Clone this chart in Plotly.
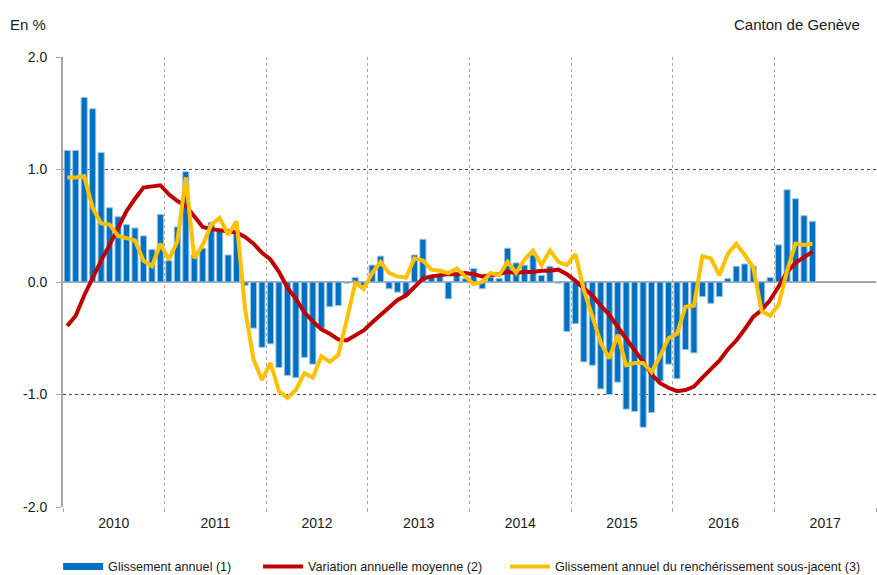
import plotly.graph_objects as go

# ---- data (monthly, Jan 2010 .. May 2017) ----
glissement = [
    1.17, 1.17, 1.64, 1.54, 1.15, 0.66, 0.58, 0.51, 0.48, 0.41, 0.29, 0.60,   # 2010
    0.19, 0.49, 0.98, 0.24, 0.30, 0.53, 0.45, 0.24, 0.46, -0.03, -0.41, -0.58,  # 2011
    -0.55, -0.76, -0.83, -0.85, -0.67, -0.73, -0.41, -0.22, -0.21, -0.01, 0.04, -0.03,  # 2012
    0.15, 0.23, -0.06, -0.09, -0.12, 0.24, 0.38, 0.04, 0.06, -0.15, 0.06, 0.03,  # 2013
    0.12, -0.06, 0.04, 0.03, 0.30, 0.17, 0.15, 0.24, 0.06, 0.14, -0.01, -0.44,  # 2014
    -0.37, -0.71, -0.74, -0.95, -1.00, -0.89, -1.13, -1.15, -1.29, -1.16, -0.88, -0.73,  # 2015
    -0.86, -0.60, -0.63, -0.13, -0.19, -0.13, 0.03, 0.14, 0.16, 0.14, -0.22, 0.04,  # 2016
    0.33, 0.82, 0.74, 0.59, 0.54,  # 2017
]
variation_moyenne = [
    -0.39, -0.30, -0.12, 0.04, 0.19, 0.33, 0.48, 0.63, 0.74, 0.84, 0.85, 0.86,
    0.78, 0.72, 0.68, 0.58, 0.49, 0.47, 0.46, 0.45, 0.44, 0.40, 0.34, 0.26,
    0.20, 0.09, -0.05, -0.15, -0.27, -0.35, -0.42, -0.46, -0.51, -0.52, -0.48, -0.43,
    -0.36, -0.29, -0.22, -0.16, -0.12, -0.04, 0.03, 0.05, 0.06, 0.07, 0.07, 0.08,
    0.07, 0.05, 0.06, 0.07, 0.09, 0.08, 0.09, 0.09, 0.10, 0.10, 0.11, 0.07,
    0.01, -0.06, -0.12, -0.21, -0.29, -0.40, -0.50, -0.60, -0.71, -0.82, -0.90, -0.94,
    -0.97, -0.96, -0.93, -0.85, -0.78, -0.70, -0.60, -0.52, -0.42, -0.31, -0.25, -0.16,
    -0.04, 0.09, 0.17, 0.22, 0.27,
]
sous_jacent = [
    0.93, 0.93, 0.94, 0.66, 0.52, 0.51, 0.41, 0.39, 0.37, 0.19, 0.14, 0.34,
    0.20, 0.36, 0.93, 0.21, 0.33, 0.51, 0.57, 0.42, 0.54, -0.24, -0.69, -0.87,
    -0.72, -0.97, -1.03, -0.96, -0.81, -0.85, -0.66, -0.71, -0.65, -0.34, -0.01, -0.06,
    0.08, 0.18, 0.08, 0.05, 0.04, 0.21, 0.19, 0.11, 0.10, 0.08, 0.12, 0.05,
    -0.02, 0.00, 0.08, 0.06, 0.18, 0.08, 0.20, 0.28, 0.15, 0.28, 0.18, 0.15,
    0.25, -0.07, -0.31, -0.54, -0.68, -0.47, -0.74, -0.72, -0.72, -0.80, -0.66, -0.50,
    -0.46, -0.22, -0.21, 0.23, 0.21, 0.06, 0.25, 0.34, 0.24, 0.13, -0.26, -0.30,
    -0.20, 0.10, 0.34, 0.33, 0.34,
]
years = ["2010", "2011", "2012", "2013", "2014", "2015", "2016", "2017"]
y_ticks = [-2, -1, 0, 1, 2]
y_ticktext = ["-2.0", "-1.0", "0.0", "1.0", "2.0"]
legend_names = ["Glissement annuel (1)", "Variation annuelle moyenne (2)",
                "Glissement annuel du renchérissement sous-jacent (3)"]

months = list(range(len(glissement)))
year_centers = [12 * i + 5.5 for i in range(len(years))]

BLUE = "#0070C0"
RED = "#C00000"
YELLOW = "#FFC000"
FONT = "Liberation Sans, Arial, sans-serif"

fig = go.Figure()
fig.add_trace(go.Bar(x=months, y=glissement, marker=dict(color=BLUE, line=dict(color="#9DC3E6", width=1)),
                     showlegend=False, hoverinfo="y"))
# legend-only entry for the bars (drawn as a thick line like the reference)
fig.add_trace(go.Scatter(x=[None], y=[None], mode="lines", line=dict(color=BLUE, width=7),
                         name=legend_names[0], legend="legend"))
fig.add_trace(go.Scatter(x=months, y=variation_moyenne, mode="lines", line=dict(color=RED, width=4),
                         name=legend_names[1], legend="legend2"))
fig.add_trace(go.Scatter(x=months, y=sous_jacent, mode="lines", line=dict(color=YELLOW, width=4),
                         name=legend_names[2], legend="legend3"))

leg_common = dict(orientation="h", xanchor="left", y=-0.133, yanchor="middle",
                  font=dict(size=12.6), itemwidth=40, bgcolor="rgba(0,0,0,0)")

fig.update_layout(
    width=877, height=575,
    margin=dict(l=63, r=1, t=57, b=68, autoexpand=False),
    paper_bgcolor="white", plot_bgcolor="white",
    font=dict(family=FONT, size=13, color="#1a1a1a"),
    bargap=0.28,
    showlegend=True,
    legend=dict(x=-0.006, **leg_common),
    legend2=dict(x=0.2399, **leg_common),
    legend3=dict(x=0.5437, **leg_common),
    xaxis=dict(range=[-0.5, 95.5], tickmode="array", tickvals=year_centers, ticktext=years,
               showgrid=False, zeroline=False, showline=False, ticks="", automargin=False,
               ticklabelstandoff=6,
               minor=dict(tick0=-0.5, dtick=12, showgrid=True, gridcolor="#A6A6A6",
                          griddash="dot", gridwidth=1, ticks="outside", ticklen=4,
                          tickcolor="#A6A6A6"),
               tickfont=dict(size=14)),
    yaxis=dict(range=[-2, 2], tickmode="array", tickvals=y_ticks, ticktext=y_ticktext,
               showgrid=True, gridcolor="#404040", griddash="dot", gridwidth=1,
               zeroline=True, zerolinecolor="#A6A6A6", zerolinewidth=2,
               showline=True, linecolor="#A6A6A6", linewidth=2, automargin=False,
               ticks="outside", ticklen=5, tickcolor="#A6A6A6", ticklabelstandoff=6,
               tickfont=dict(size=14)),
    annotations=[
        dict(text="En %", xref="paper", yref="paper", x=-0.068, y=1.073,
             xanchor="left", yanchor="middle", showarrow=False, font=dict(size=15)),
        dict(text="Canton de Genève", xref="paper", yref="paper", x=0.983, y=1.073,
             xanchor="right", yanchor="middle", showarrow=False, font=dict(size=15)),
    ],
)

fig.write_html("out.html", config={"displayModeBar": False},
               post_script="document.body.style.margin='0';document.body.style.overflow='hidden';")
